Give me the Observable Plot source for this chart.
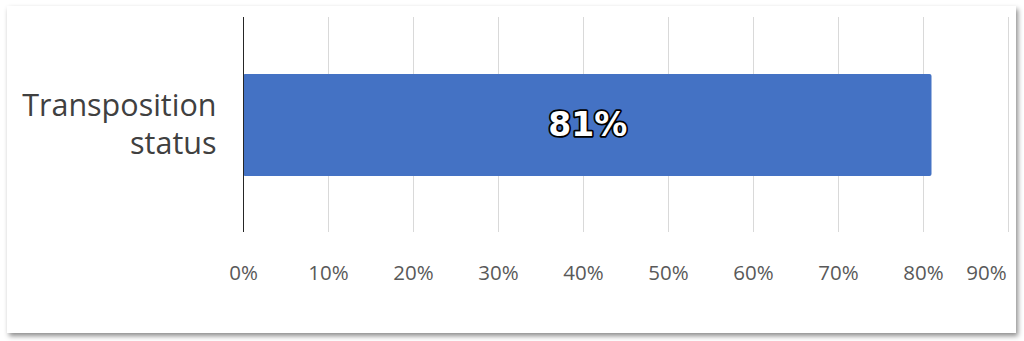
<!DOCTYPE html>
<html>
<head>
<meta charset="utf-8">
<script src="https://cdn.jsdelivr.net/npm/d3@7"></script>
<script src="https://cdn.jsdelivr.net/npm/@observablehq/plot@0.6"></script>
<style>
  html, body { margin: 0; padding: 0; background: #ffffff; width: 1024px; height: 341px; overflow: hidden; }
  #panel { position: absolute; left: 7px; top: 6px; width: 1009px; height: 327px; background: #ffffff;
           box-shadow: 2px 3px 5px rgba(0,0,0,0.45); }
  #chart { position: absolute; left: 0; top: 0; }
  #chart svg { background: transparent; }
</style>
</head>
<body>
<div id="panel"></div>
<div id="chart"></div>
<script>
const categories = ["Transposition status"];
const categoryLabels = ["Transposition\nstatus"];
const values = [0.81];
const tickValues = [0, 0.1, 0.2, 0.3, 0.4, 0.5, 0.6, 0.7, 0.8, 0.9];

const data = categories.map((c, i) => ({category: c, value: values[i]}));
const pct = d => Math.round(d * 100) + "%";
const lastTick = tickValues[tickValues.length - 1];

const chart = Plot.plot({
  width: 1024,
  height: 341,
  marginLeft: 243,
  marginRight: 16,
  marginTop: 17,
  marginBottom: 109,
  style: {background: "transparent", fontFamily: "'Open Sans', sans-serif"},
  x: {domain: [0, lastTick]},
  y: {domain: categories, padding: 0.356},
  marks: [
    Plot.gridX(tickValues, {stroke: "#d9d9d9", strokeOpacity: 1, strokeWidth: 1}),
    Plot.barX(data, {x: "value", y: "category", fill: "#4472C4", rx: 2}),
    Plot.ruleX([0], {stroke: "#262626", strokeWidth: 1}),
    Plot.text(data, {
      x: d => d.value / 2, y: "category", text: d => pct(d.value),
      fill: "white", stroke: "black", strokeWidth: 3.5, strokeLinejoin: "round",
      fontFamily: "'DejaVu Sans', sans-serif", fontWeight: "bold", fontSize: 33
    }),
    Plot.axisY({
      tickSize: 0, tickPadding: 27, fontSize: 30.5, fill: "#404040", lineHeight: 1.27, dy: -3,
      tickFormat: d => categoryLabels[categories.indexOf(d)], label: null
    }),
    Plot.axisX(tickValues.filter(t => t !== lastTick), {
      tickSize: 0, tickPadding: 33, fontSize: 20.5, fill: "#595959", tickFormat: pct, label: null
    }),
    Plot.axisX([lastTick], {
      tickSize: 0, tickPadding: 33, fontSize: 20.5, fill: "#595959", tickFormat: pct, label: null, dx: -22
    })
  ]
});
document.getElementById("chart").appendChild(chart);
</script>
</body>
</html>
